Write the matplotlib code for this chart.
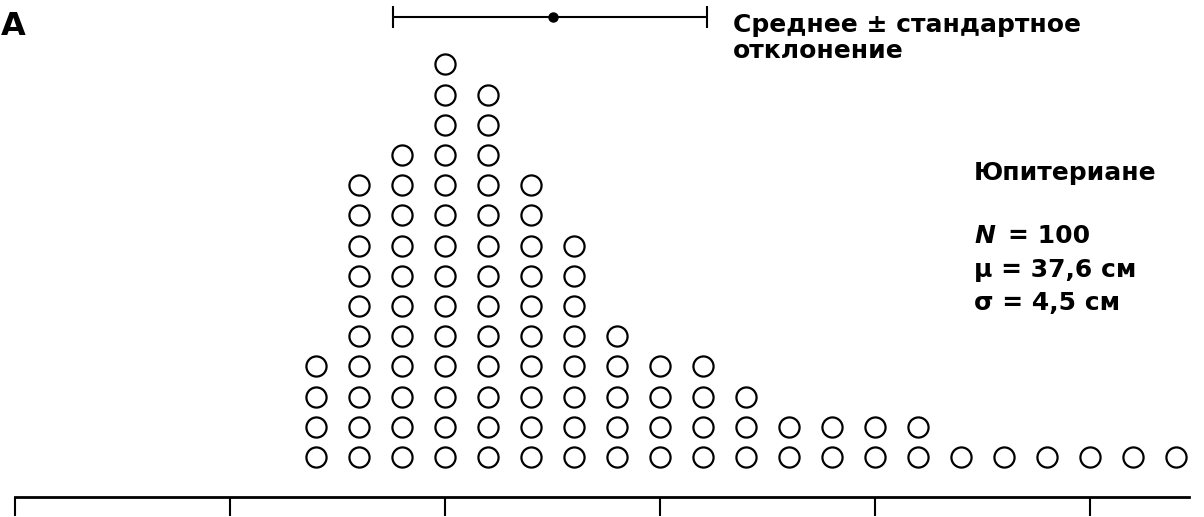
import numpy as np
import matplotlib.pyplot as plt

plt.rcParams['font.family'] = ['DejaVu Sans']

# body lengths, cm (one column per centimetre)
lengths = np.arange(32, 53)
counts = [4, 10, 11, 14, 13, 10, 8, 5, 4, 4, 3, 2, 2, 2, 2, 1, 1, 1, 1, 1, 1]
tick_values = [25, 30, 35, 40, 45, 50]

# mean +- SD bar as drawn on top
bar_mean = 37.5
bar_lo = 33.8
bar_hi = 41.1

W, H = 1204, 517
fig = plt.figure(figsize=(W / 100, H / 100), dpi=100)
ax = fig.add_axes([0, 0, 1, 1])

xs, ys = [], []
for v, n in zip(lengths, counts):
    xs += [v] * n
    ys += list(range(n))
ax.plot(xs, ys, 'o', ms=14.5, mfc='white', mec='black', mew=1.6, ls='none')

ax.errorbar(bar_mean, 14.57, xerr=[[bar_mean - bar_lo], [bar_hi - bar_mean]],
            fmt='o', color='black', ms=6.5, capsize=8, elinewidth=1.5, capthick=1.5)

ax.set_xlim(24.65, 52.65)
ax.set_ylim(-1.987, 15.13)

for s in ['top', 'left', 'right']:
    ax.spines[s].set_visible(False)
ax.spines['bottom'].set_position(('data', -1.32))
ax.spines['bottom'].set_bounds(25, 52.3)
ax.spines['bottom'].set_linewidth(2)
ax.set_xticks(tick_values)
ax.set_xticklabels([])
ax.set_yticks([])
ax.tick_params(axis='x', direction='out', length=14, width=1.5)


def ftext(x, y, s, size=18, **kw):
    # place text with pixel coordinates measured from top-left
    fig.text(x / W, 1 - y / H, s, va='baseline', fontsize=size, fontweight='bold', **kw)


ftext(1, 35, 'A', size=23)
ftext(733, 32, 'Среднее ± стандартное')
ftext(733, 58, 'отклонение')
ftext(974, 180, 'Юпитериане')
ftext(974, 243, 'N', style='italic')
ftext(1008, 243, '= 100')
ftext(974, 277, 'μ = 37,6 см')
ftext(974, 310, 'σ = 4,5 см')

fig.savefig('out.png', dpi=100, facecolor='white')
